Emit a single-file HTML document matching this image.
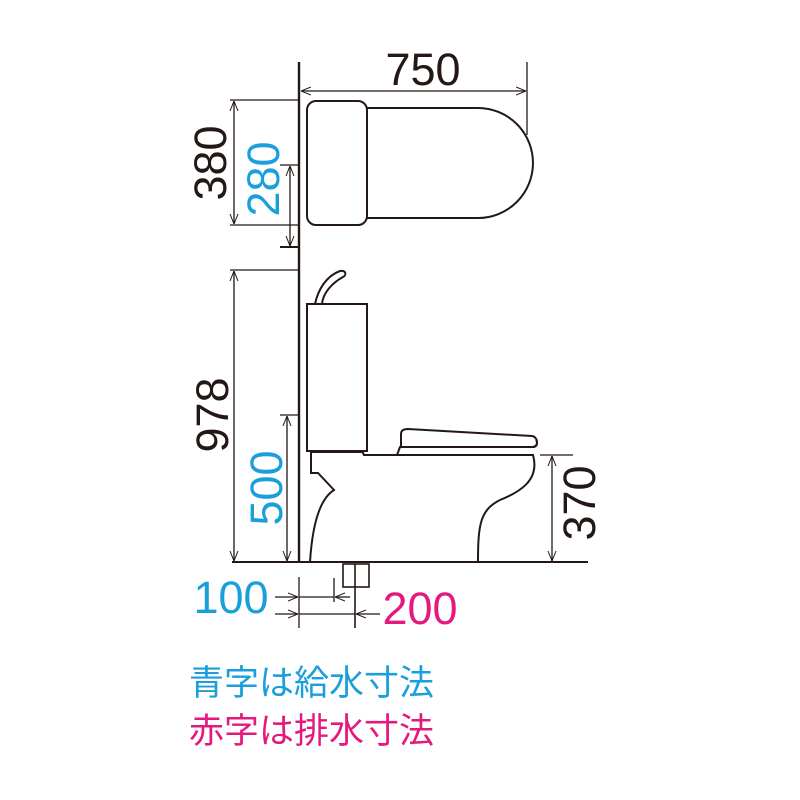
<!DOCTYPE html>
<html><head><meta charset="utf-8"><style>
html,body{margin:0;padding:0;background:#fff;width:800px;height:800px;overflow:hidden}
svg{display:block}
text{font-family:"Liberation Sans","Noto Sans CJK JP",sans-serif}
</style></head><body>
<svg width="800" height="800" viewBox="0 0 800 800" xmlns="http://www.w3.org/2000/svg">
<defs>
<marker id="a" viewBox="0 0 10 10" refX="10" refY="5" markerWidth="10" markerHeight="10" orient="auto-start-reverse" markerUnits="userSpaceOnUse">
<path d="M0,1 L10,5 L0,9" fill="none" stroke="#231815" stroke-width="1"/></marker>
</defs>
<g stroke="#231815" fill="none" stroke-width="1.3">
<line x1="299" y1="62" x2="299" y2="562" stroke-width="2.4"/>
<line x1="527" y1="62" x2="527" y2="135"/>
<line x1="301" y1="91" x2="526" y2="91" marker-start="url(#a)" marker-end="url(#a)"/>
<rect x="307" y="101" width="60" height="124" rx="9" stroke-width="2"/>
<path d="M367,108 H478 A55,55 0 0 1 478,218 H367" stroke-width="2"/>
<line x1="230" y1="100" x2="299" y2="100"/>
<line x1="230" y1="225" x2="299" y2="225"/>
<line x1="234" y1="101" x2="234" y2="224" marker-start="url(#a)" marker-end="url(#a)"/>
<line x1="280" y1="165" x2="299" y2="165"/>
<line x1="280" y1="247" x2="299" y2="247" stroke-width="2"/>
<line x1="290" y1="166" x2="290" y2="246" marker-start="url(#a)" marker-end="url(#a)"/>
<line x1="230" y1="270" x2="299" y2="270"/>
<line x1="234" y1="271" x2="234" y2="561" marker-start="url(#a)" marker-end="url(#a)"/>
<line x1="280" y1="415" x2="299" y2="415"/>
<line x1="287" y1="416" x2="287" y2="561" marker-start="url(#a)" marker-end="url(#a)"/>
<line x1="232" y1="562" x2="588" y2="562" stroke-width="2"/>
<rect x="307" y="304" width="60" height="147" stroke-width="2"/>
<path d="M315,304 C318,290 326,276 340,271 C346,270 347,275 343,277 C332,283 323,293 322,304" stroke-width="2"/>
<path d="M362,451 L364,455 H533 C540,480 520,492 500,500 C480,510 478,525 478,562" stroke-width="2"/>
<path d="M311,452 H362 M311,452 V473 H318 L334,490 C318,500 312,530 310,562" stroke-width="2"/>
<path d="M397,455 L400,447 H533 C537,447 538,443 536,440" stroke-width="2"/>
<path d="M401,446 V434 C401,430 404,429 408,429 L532,436 C538,437 539,446 533,447" stroke-width="2"/>
<line x1="540" y1="455" x2="573" y2="455"/>
<line x1="552" y1="456" x2="552" y2="561" marker-start="url(#a)" marker-end="url(#a)"/>
<rect x="343" y="564" width="26" height="23" stroke-width="1.6"/>
<line x1="299" y1="577" x2="299" y2="628"/>
<line x1="355" y1="564" x2="355" y2="628" stroke-width="1.6"/>
<line x1="334" y1="578" x2="334" y2="602"/>
<line x1="275" y1="597" x2="298" y2="597" marker-end="url(#a)"/>
<line x1="299" y1="597" x2="334" y2="597"/>
<line x1="350" y1="597" x2="335" y2="597" marker-end="url(#a)"/>
<line x1="275" y1="614" x2="298" y2="614" marker-end="url(#a)"/>
<line x1="299" y1="614" x2="355" y2="614"/>
<line x1="380" y1="614" x2="356" y2="614" marker-end="url(#a)"/>
</g>
<g font-size="45" fill="#231815">
<text x="423" y="85" text-anchor="middle">750</text>
<text transform="translate(226,163) rotate(-90)" text-anchor="middle">380</text>
<text transform="translate(228,415) rotate(-90)" text-anchor="middle">978</text>
<text transform="translate(595,503) rotate(-90)" text-anchor="middle">370</text>
</g>
<g font-size="45" fill="#1a9fdc">
<text transform="translate(279,179) rotate(-90)" text-anchor="middle">280</text>
<text transform="translate(282,488) rotate(-90)" text-anchor="middle">500</text>
<text x="231" y="613" text-anchor="middle">100</text>
</g>
<text x="420" y="624" text-anchor="middle" font-size="45" fill="#e4197e">200</text>
<text x="189" y="695" font-size="35" fill="#1a9fdc">青字は給水寸法</text>
<text x="189" y="743" font-size="35" fill="#e4197e">赤字は排水寸法</text>
</svg>
</body></html>
